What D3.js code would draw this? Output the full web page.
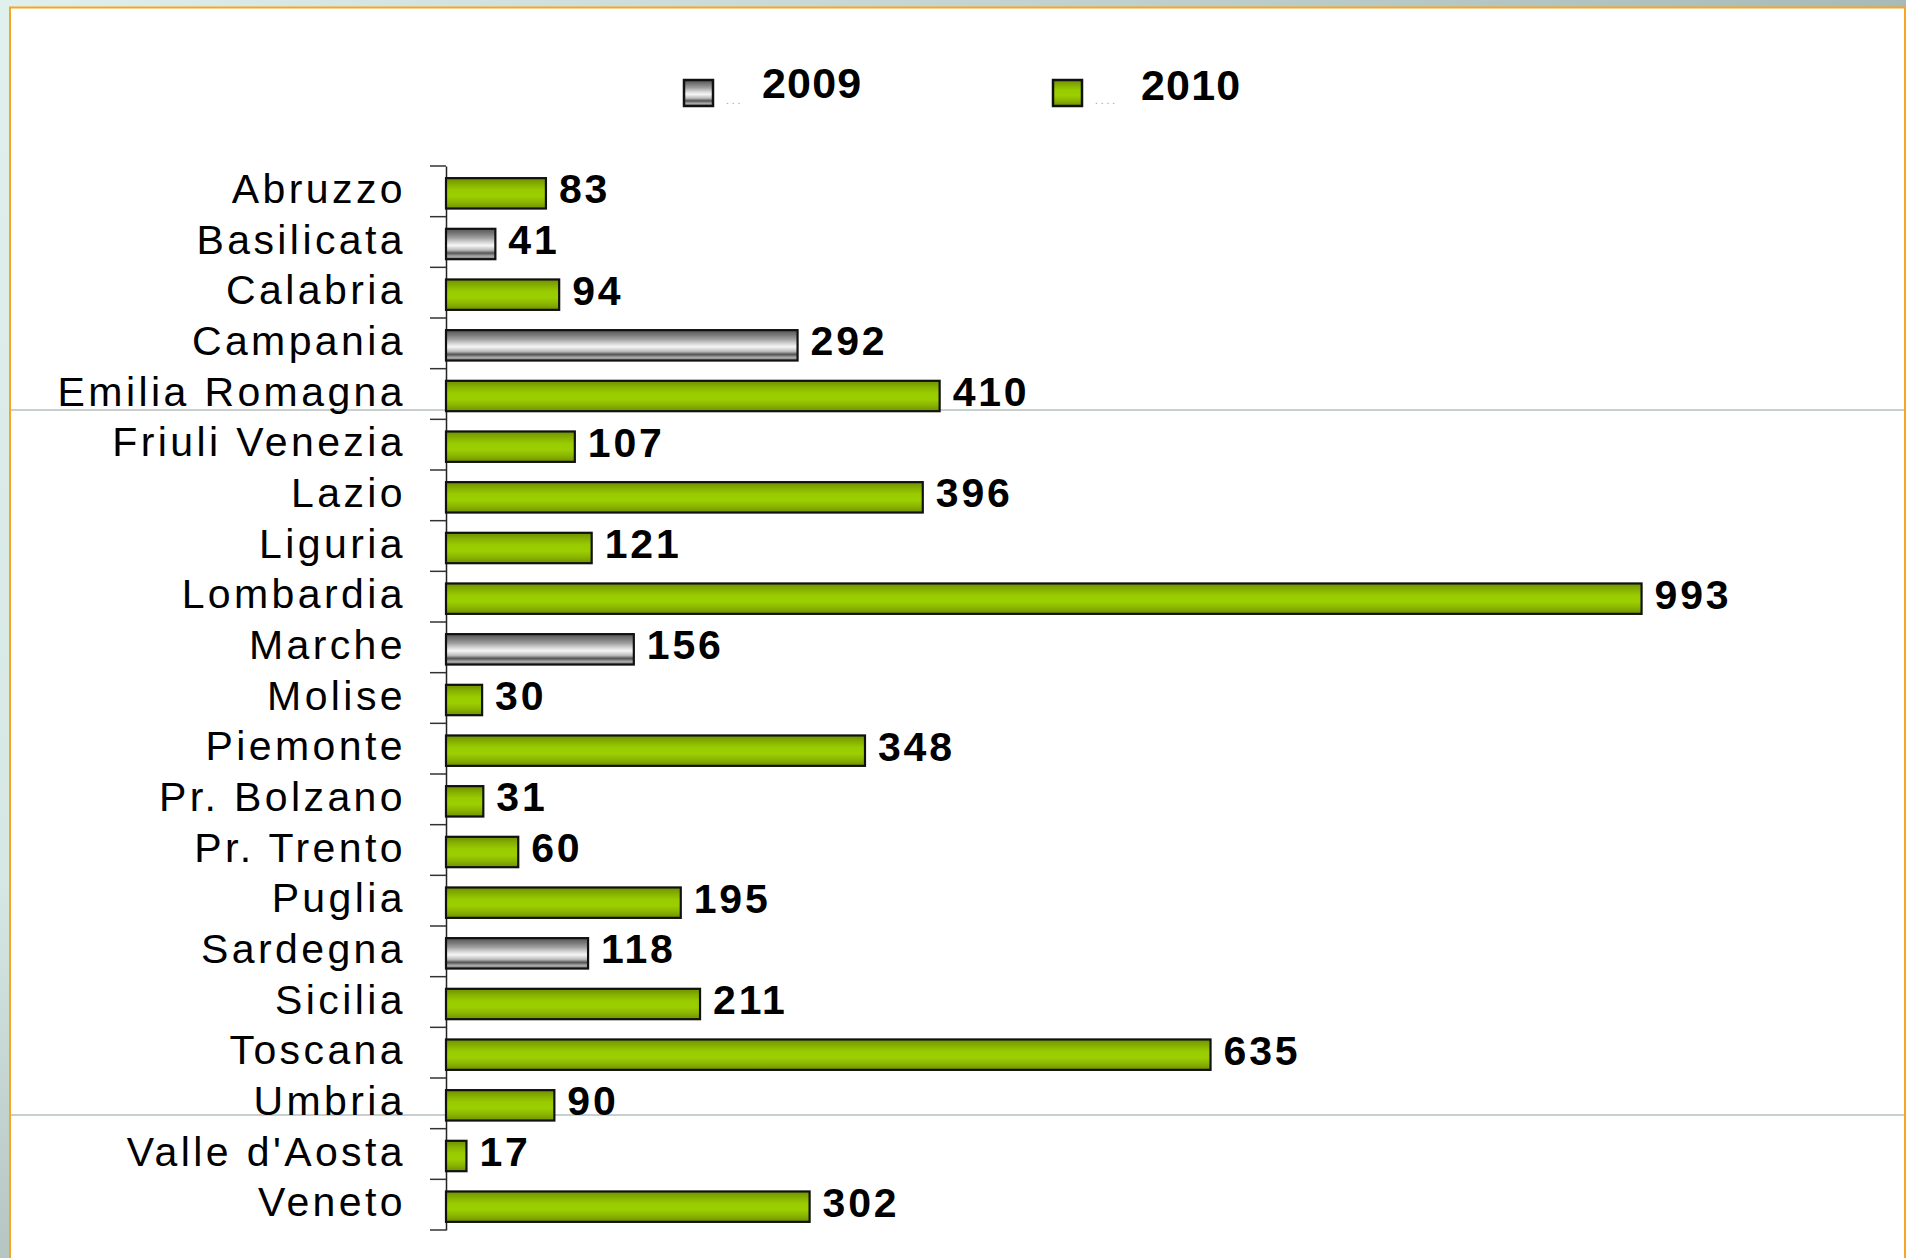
<!DOCTYPE html>
<html>
<head>
<meta charset="utf-8">
<script src="https://cdn.jsdelivr.net/npm/d3@7"></script>
<style>
  html, body { margin: 0; padding: 0; background: #e2f0ed; }
  svg { display: block; }
</style>
</head>
<body>
<svg id="chart" width="1906" height="1258"></svg>
<script>
// dati
var regions = ["Abruzzo", "Basilicata", "Calabria", "Campania", "Emilia Romagna",
  "Friuli Venezia", "Lazio", "Liguria", "Lombardia", "Marche", "Molise", "Piemonte",
  "Pr. Bolzano", "Pr. Trento", "Puglia", "Sardegna", "Sicilia", "Toscana", "Umbria",
  "Valle d'Aosta", "Veneto"];
var values = [83, 41, 94, 292, 410, 107, 396, 121, 993, 156, 30, 348, 31, 60, 195, 118, 211, 635, 90, 17, 302];
var years = [2010, 2009, 2010, 2009, 2010, 2010, 2010, 2010, 2010, 2009, 2010, 2010, 2010, 2010, 2010, 2009, 2010, 2010, 2010, 2010, 2010];
var legendYears = [2009, 2010];

var data = regions.map(function(r, i) {
  return { region: r, value: values[i], year: years[i] };
});

var svg = d3.select("#chart");
var font = "'Liberation Sans', Arial, sans-serif";

// sfondo
var defs = svg.append("defs");
var bg = defs.append("linearGradient").attr("id", "bgTop").attr("x1", 0).attr("x2", 1).attr("y1", 0).attr("y2", 0);
bg.append("stop").attr("offset", "0").attr("stop-color", "#e0f0ec");
bg.append("stop").attr("offset", "1").attr("stop-color", "#a8bab7");
var bgL = defs.append("linearGradient").attr("id", "bgLeft").attr("x1", 0).attr("x2", 0).attr("y1", 0).attr("y2", 1);
bgL.append("stop").attr("offset", "0").attr("stop-color", "#e0f0ec");
bgL.append("stop").attr("offset", "0.7").attr("stop-color", "#d6e8e4");
bgL.append("stop").attr("offset", "1").attr("stop-color", "#b5c6c2");

svg.append("rect").attr("width", 1906).attr("height", 1258).attr("fill", "url(#bgLeft)");
svg.append("rect").attr("width", 1906).attr("height", 8).attr("fill", "url(#bgTop)");
svg.append("rect").attr("x", 10).attr("y", 7.5).attr("width", 1895).attr("height", 1260)
  .attr("fill", "#ffffff").attr("stroke", "#f6a623").attr("stroke-width", 2);

// linee grigie della slide
[410, 1115].forEach(function(yy) {
  svg.append("line").attr("x1", 11).attr("x2", 1904).attr("y1", yy).attr("y2", yy)
    .attr("stroke", "#b4c0be").attr("stroke-width", 1.5);
});

// gradienti barre
var gGreen = defs.append("linearGradient").attr("id", "green").attr("x1", 0).attr("x2", 0).attr("y1", 0).attr("y2", 1);
[["0", "#6e9200"], ["0.2", "#86b000"], ["0.4", "#99cc00"], ["0.6", "#9ccf00"], ["0.8", "#8ab400"], ["1", "#6e9200"]]
  .forEach(function(s) { gGreen.append("stop").attr("offset", s[0]).attr("stop-color", s[1]); });
var gGray = defs.append("linearGradient").attr("id", "gray").attr("x1", 0).attr("x2", 0).attr("y1", 0).attr("y2", 1);
[["0", "#555555"], ["0.15", "#777777"], ["0.3", "#a0a0a0"], ["0.45", "#d8d8d8"], ["0.55", "#f6f6f6"],
 ["0.7", "#bbbbbb"], ["0.8", "#555555"], ["0.9", "#aaaaaa"], ["1", "#777777"]]
  .forEach(function(s) { gGray.append("stop").attr("offset", s[0]).attr("stop-color", s[1]); });

var fillFor = function(year) { return year === 2009 ? "url(#gray)" : "url(#green)"; };

// scale
var x = d3.scaleLinear().domain([0, 1000]).range([446, 1650]);
var y = d3.scaleBand().domain(regions).range([168, 1232]).paddingInner(0.4).paddingOuter(0.2);

// asse
var axis = svg.append("g")
  .attr("transform", "translate(446,0)")
  .call(d3.axisLeft(d3.scaleBand().domain(regions).range([166, 1230]))
    .tickSize(0).tickFormat(""));
axis.select(".domain").attr("stroke", "#222").attr("stroke-width", 1.5);

var step = (1230 - 166) / regions.length;
svg.append("g").selectAll("line")
  .data(d3.range(regions.length + 1))
  .enter().append("line")
  .attr("x1", 430).attr("x2", 446)
  .attr("y1", function(i) { return 166 + i * step; })
  .attr("y2", function(i) { return 166 + i * step; })
  .attr("stroke", "#333").attr("stroke-width", 1.5);

// barre
svg.append("g").selectAll("rect")
  .data(data)
  .enter().append("rect")
  .attr("x", x(0))
  .attr("y", function(d) { return y(d.region); })
  .attr("width", function(d) { return x(d.value) - x(0); })
  .attr("height", y.bandwidth())
  .attr("fill", function(d) { return fillFor(d.year); })
  .attr("stroke", "#111")
  .attr("stroke-width", 2.2);

// etichette valori
svg.append("g").selectAll("text")
  .data(data)
  .enter().append("text")
  .attr("x", function(d) { return x(d.value) + 13; })
  .attr("y", function(d) { return y(d.region) + y.bandwidth() / 2 + 10; })
  .attr("font-family", font)
  .attr("font-weight", "bold")
  .attr("font-size", 41)
  .attr("letter-spacing", 2.8)
  .attr("fill", "#000")
  .text(function(d) { return d.value; });

// etichette regioni
svg.append("g").selectAll("text")
  .data(data)
  .enter().append("text")
  .attr("x", 406)
  .attr("y", function(d) { return y(d.region) + y.bandwidth() / 2 + 9.5; })
  .attr("text-anchor", "end")
  .attr("font-family", font)
  .attr("font-size", 41)
  .attr("letter-spacing", 3.4)
  .attr("fill", "#000")
  .text(function(d) { return d.region; });

// legenda
var legendX = [684, 1053];
var legendTextX = [762, 1141];
var legendBase = [98, 100];
var legend = svg.append("g").selectAll("g")
  .data(legendYears)
  .enter().append("g");
legend.append("rect")
  .attr("x", function(d, i) { return legendX[i]; })
  .attr("y", 80)
  .attr("width", 29)
  .attr("height", 26)
  .attr("fill", function(d) { return fillFor(d); })
  .attr("stroke", "#111")
  .attr("stroke-width", 2.5);
legend.append("text")
  .attr("x", function(d, i) { return legendX[i] + 42; })
  .attr("y", 104)
  .attr("font-family", font)
  .attr("font-size", 10)
  .attr("fill", "#999")
  .attr("letter-spacing", 3)
  .text(function(d, i) { return i === 0 ? "..." : "...."; });
legend.append("text")
  .attr("x", function(d, i) { return legendTextX[i]; })
  .attr("y", function(d, i) { return legendBase[i]; })
  .attr("font-family", font)
  .attr("font-weight", "bold")
  .attr("font-size", 43)
  .attr("letter-spacing", 1.2)
  .attr("fill", "#000")
  .text(function(d) { return d; });
</script>
</body>
</html>
